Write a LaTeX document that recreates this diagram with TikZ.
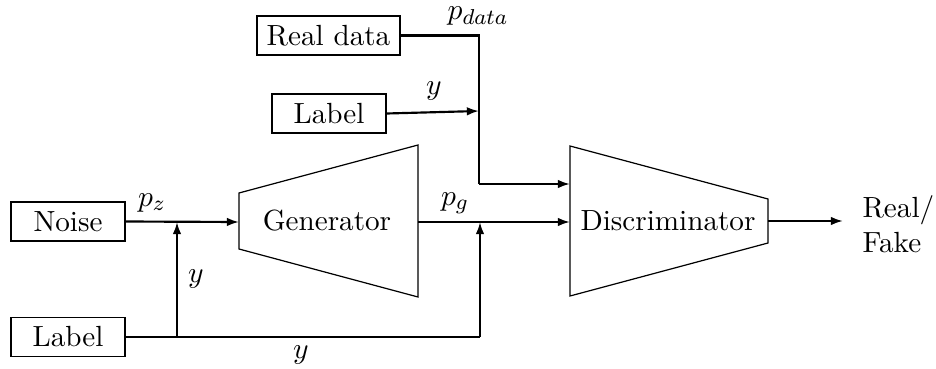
\documentclass[tikz,border=0pt]{standalone}
\usetikzlibrary{arrows.meta}
\begin{document}
\begin{tikzpicture}[x=0.3704pt, y=-0.3704pt,
  every node/.style={font=\fontsize{10.8}{13}\selectfont},
  block/.style={draw, line width=0.45pt, inner sep=0pt, minimum height=14.4pt},
  flow/.style={line width=0.8pt},
  arr/.style={flow, -{Latex[length=4.5pt,width=3.2pt]}},
  trap/.style={draw, line width=0.45pt, line join=miter},
  lbl/.style={inner sep=0pt}]
\useasboundingbox (0,0) rectangle (936,369);

% input boxes
\node[block, minimum width=53pt] (real) at (328.5,35.5) {Real data};
\node[block, minimum width=42.2pt] (labtop) at (329,113.5) {Label};
\node[block, minimum width=42.2pt] (noise) at (68,221.5) {Noise};
\node[block, minimum width=42.2pt] (labbot) at (68,337) {Label};

% generator
\coordinate (g1) at (239,193);
\coordinate (g2) at (418,145);
\coordinate (g3) at (418,297);
\coordinate (g4) at (239,249);
\draw[trap] (g1) -- (g2) -- (g3) -- (g4) -- cycle;
\node (gen) at (327,221) {Generator};
\coordinate (gin) at (239,222);
\coordinate (gout) at (418,222);

% discriminator
\coordinate (d1) at (570,146);
\coordinate (d2) at (768,199);
\coordinate (d3) at (768,243);
\coordinate (d4) at (570,296);
\draw[trap] (d1) -- (d2) -- (d3) -- (d4) -- cycle;
\node (disc) at (668,221) {Discriminator};
\coordinate (dinA) at (570,184);
\coordinate (dinB) at (570,222);
\coordinate (dout) at (768,221);

% junction points
\coordinate (jtop) at (479,35.5);
\coordinate (jlab) at (479,111);
\coordinate (jbend) at (479,184);
\coordinate (jz) at (177,222);
\coordinate (jlb) at (177,337);
\coordinate (jg) at (480,222);
\coordinate (jgb) at (480,337);
\coordinate (out) at (843,221);

% real data path
\draw[flow] (real.east) -- (jtop) -- (jbend);
\draw[arr] (jbend) -- (dinA);
\draw[arr] (labtop.east) -- (jlab);

% generator path
\draw[arr] (noise.east) -- (gin);
\draw[arr] (gout) -- (dinB);
\draw[flow] (labbot.east) -- (jgb);
\draw[arr] (jlb) -- (jz);
\draw[arr] (jgb) -- (jg);
\draw[arr] (dout) -- (out);

% labels
\node[lbl] (pdata) at (478,16) {$p_{data}$};
\node[lbl] (ytop) at (434,91) {$y$};
\node[lbl] (pz) at (152,203) {$p_z$};
\node[lbl] (yz) at (196,279) {$y$};
\node[lbl] (pg) at (455,203) {$p_g$};
\node[lbl] (ybot) at (301,355) {$y$};
\node[lbl, align=left, anchor=west] (rf) at (862,224) {Real/\\Fake};
\end{tikzpicture}
\end{document}
